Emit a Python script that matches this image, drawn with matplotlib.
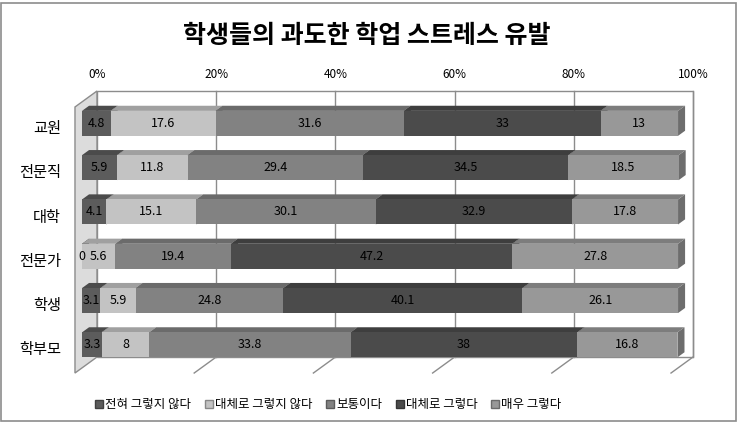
import matplotlib.pyplot as plt
from matplotlib.patches import Polygon, Rectangle
from matplotlib.lines import Line2D
import matplotlib.colors as mcolors

plt.rcParams['font.family'] = ['Noto Sans CJK KR', 'DejaVu Sans']

# data
title = "학생들의 과도한 학업 스트레스 유발"
categories = ["교원", "전문직", "대학", "전문가", "학생", "학부모"]
series_names = ["전혀 그렇지 않다", "대체로 그렇지 않다", "보통이다", "대체로 그렇다", "매우 그렇다"]
s1 = [4.8, 5.9, 4.1, 0, 3.1, 3.3]
s2 = [17.6, 11.8, 15.1, 5.6, 5.9, 8]
s3 = [31.6, 29.4, 30.1, 19.4, 24.8, 33.8]
s4 = [33, 34.5, 32.9, 47.2, 40.1, 38]
s5 = [13, 18.5, 17.8, 27.8, 26.1, 16.8]
series = [s1, s2, s3, s4, s5]
xticks = [0, 20, 40, 60, 80, 100]
colors = ["#5c5c5c", "#c3c3c3", "#828282", "#4b4b4b", "#989898"]

# 3D-ish geometry (data units)
DX, DY = 3.69, -0.361        # full floor depth
BZ0, BZ1 = 0.32, 0.64        # bar front/back depth fraction
BAR_H = 0.564
FLOOR_Y = 5.52
WALL_TOP = -0.485

fig = plt.figure(figsize=(7.38, 4.23), dpi=100)
ax = fig.add_axes([0, 0, 1, 1])
ax.set_xlim(-12.58, 111.24)
ax.set_ylim(6.648, -2.90)
ax.axis('off')

# border around chart
fig.patches.append(Rectangle((0.002, 0.004), 0.995, 0.99, transform=fig.transFigure,
                             fill=False, edgecolor="#8c8c8c", lw=1.2))

fig.text(0.497, 0.915, title, ha='center', va='center', fontsize=18, fontweight='bold')

# back wall
ax.add_patch(Rectangle((DX, WALL_TOP + DY), 100, FLOOR_Y - WALL_TOP, facecolor='white',
                       edgecolor='#8c8c8c', lw=1, zorder=1))
# left wall
ax.add_patch(Polygon([(0, WALL_TOP), (DX, WALL_TOP + DY), (DX, FLOOR_Y + DY), (0, FLOOR_Y)],
                     closed=True, facecolor='#dcdcdc', edgecolor='#8c8c8c', lw=1, zorder=1))
for t in xticks:
    if t > 0:
        ax.plot([t + DX, t + DX], [WALL_TOP + DY, FLOOR_Y + DY], color='#8c8c8c', lw=1, zorder=1)
        ax.plot([t, t + DX], [FLOOR_Y, FLOOR_Y + DY], color='#8c8c8c', lw=1, zorder=1)
    ax.text(t + DX, -1.208, f"{t}%", ha='center', va='center', fontsize=8.5)

fx, fy = BZ0 * DX, BZ0 * DY
bx, by = (BZ1 - BZ0) * DX, (BZ1 - BZ0) * DY


def shade(c, f):
    r, g, b = mcolors.to_rgb(c)
    return (r * f, g * f, b * f)


for i, cat in enumerate(categories):
    yc = i + fy
    top = yc - BAR_H / 2
    bot = yc + BAR_H / 2
    left = 0
    for j, s in enumerate(series):
        v = s[i]
        x0, x1 = left + fx, left + v + fx
        # right face
        ax.add_patch(Polygon([(x1, top), (x1 + bx, top + by), (x1 + bx, bot + by), (x1, bot)],
                             closed=True, facecolor=shade(colors[j], 0.72), edgecolor='none', zorder=2 + j))
        # top face
        ax.add_patch(Polygon([(x0, top), (x1, top), (x1 + bx, top + by), (x0 + bx, top + by)],
                             closed=True, facecolor=shade(colors[j], 0.82), edgecolor='none', zorder=2 + j))
        ax.barh(yc, v, left=left + fx, height=BAR_H, color=colors[j], zorder=2.5 + j)
        ax.text(left + v / 2 + fx, yc, f"{v:g}", ha='center', va='center', fontsize=9, zorder=10)
        left += v
    ax.text(-2.35, i, cat, ha='right', va='center', fontsize=11)

handles = [Line2D([], [], marker='s', linestyle='none', markersize=5.5,
                  markerfacecolor=c, markeredgecolor=shade(c, 0.7)) for c in colors]
fig.legend(handles, series_names, loc='center left', bbox_to_anchor=(0.112, 0.043), ncol=5,
           frameon=False, fontsize=9, handletextpad=0.1, columnspacing=1.0, handlelength=0.8)

fig.savefig("out.png", dpi=100)
